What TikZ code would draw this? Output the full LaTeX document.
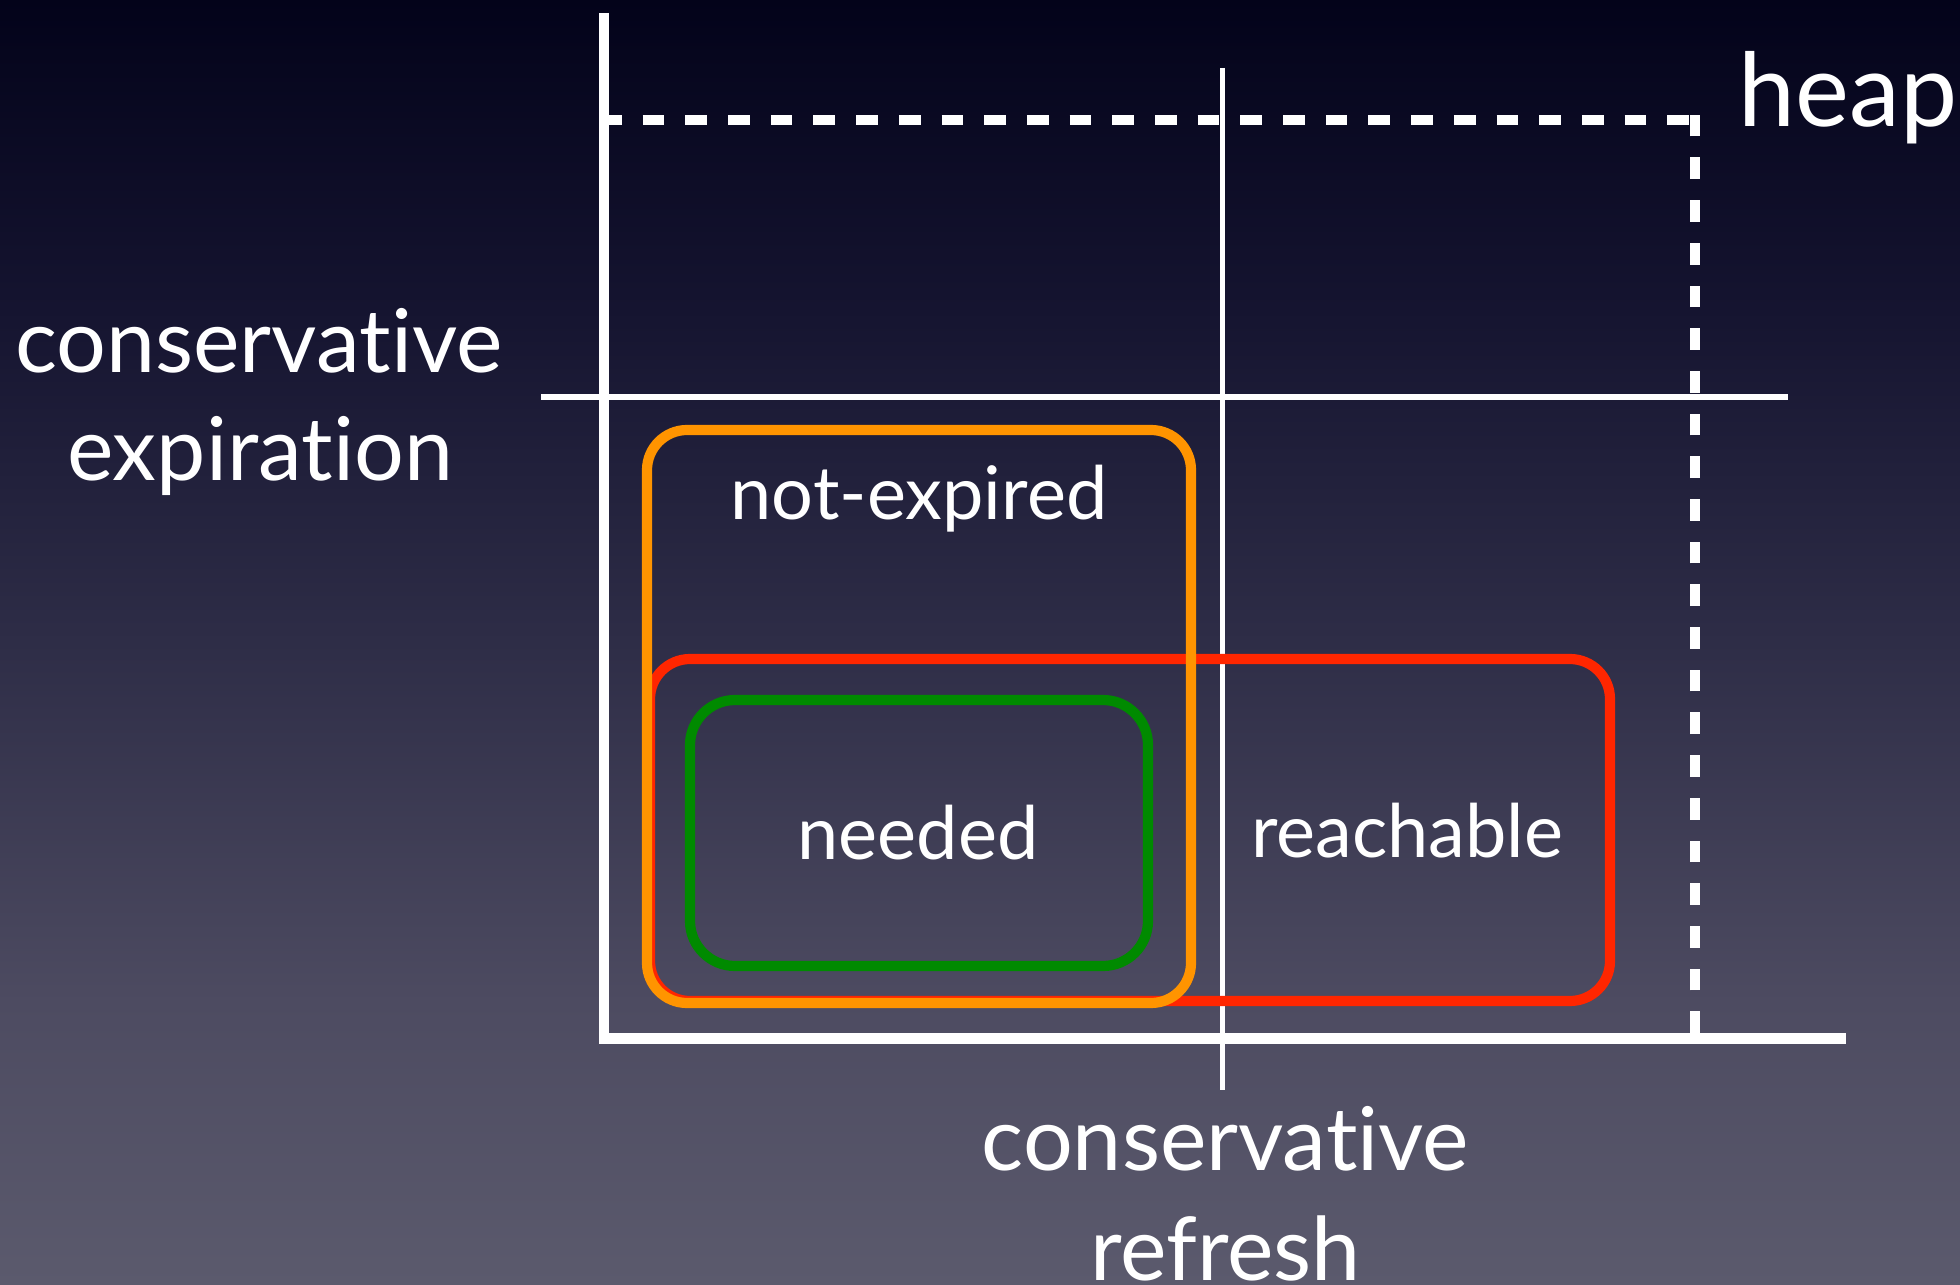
\documentclass[tikz,border=0pt]{standalone}
\usepackage{fontspec}
\setmainfont{Lato}[Ligatures={NoCommon,NoRare}]

\definecolor{bgtop}{HTML}{03031A}
\definecolor{bgupper}{HTML}{151430}
\definecolor{bgmiddle}{HTML}{2E2D47}
\definecolor{bglower}{HTML}{4D4B61}
\definecolor{bgbottom}{HTML}{5B5A6D}
\definecolor{setorange}{HTML}{FF9400}
\definecolor{setred}{HTML}{FF2600}
\definecolor{setgreen}{HTML}{008A00}

\pgfdeclareverticalshading{slidebg}{100bp}{color(0bp)=(bgbottom); color(25bp)=(bgbottom);
  color(36bp)=(bglower); color(50bp)=(bgmiddle); color(63bp)=(bgupper);
  color(75bp)=(bgtop); color(100bp)=(bgtop)}

\begin{document}
\begin{tikzpicture}[x=0.01cm, y=-0.01cm, every node/.style={font=\fontsize{25}{30}\selectfont, text=white, inner sep=0pt, anchor=base},
    setlabel/.style={font=\fontsize{21}{26}\selectfont}]
    % 0. background of the slide
    \shade[shading=slidebg] (0,0) rectangle (1960,1285);
    \useasboundingbox (0,0) rectangle (1960,1285);

    % 1. the two axes
    \draw[white, line width=2.9pt] (604,13) -- (604,1044);
    \draw[white, line width=3.1pt] (599,1038.5) -- (1846,1038.5);

    % 2. dashed bound of the heap
    \draw[white, line width=3.1pt, dash pattern=on 6.17pt off 5.97pt] (600,120) -- (1700,120);
    \draw[white, line width=3pt, dash pattern=on 6.17pt off 5.97pt] (1695,1033) -- (1695,115);

    % 3. thin lines for the two conservative limits
    \draw[white, line width=1.45pt] (1222.5,68) -- (1222.5,1090);
    \draw[white, line width=1.45pt] (541,397) -- (1788,397);

    % 4. the three sets (red first, orange over it)
    \draw[setred, line width=2.9pt, rounded corners=0.4cm] (650,659) rectangle (1610,1001);
    \draw[setorange, line width=2.9pt, rounded corners=0.4cm] (647,430) rectangle (1191,1003);
    \draw[setgreen, line width=2.9pt, rounded corners=0.45cm] (690,700) rectangle (1148,966);

    % 5. labels
    \node (heap) at (1848,127) {\fontsize{29}{35}\selectfont heap};
    \node (consexp1) at (259,372) {conservative};
    \node (consexp2) at (260,480) {expiration};
    \node (consref1) at (1225.5,1170) {conservative};
    \node (consref2) at (1225.5,1280) {refresh};
    \node[setlabel] (notexp) at (919,519) {not-expired};
    \node[setlabel] (needed) at (918,859) {needed};
    \node[setlabel] (reach) at (1407,857) {reachable};
\end{tikzpicture}
\end{document}
